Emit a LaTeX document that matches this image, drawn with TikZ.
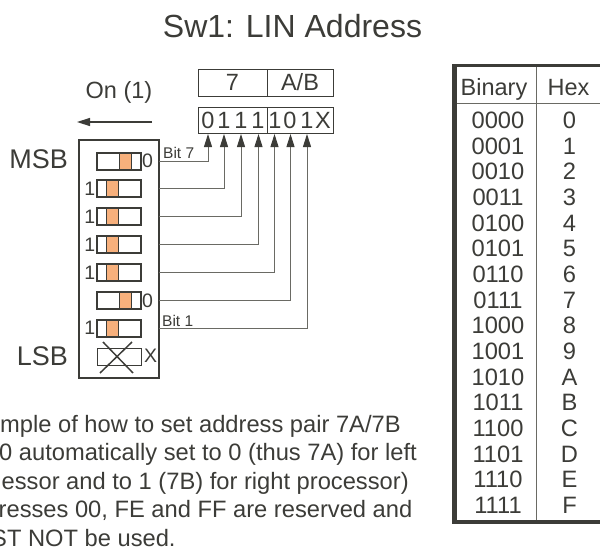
\documentclass[tikz,border=0pt]{standalone}
\usepackage{fontspec}
\setmainfont{Liberation Sans}
\usetikzlibrary{arrows.meta}
\definecolor{swDark}{HTML}{3C3C38}
\definecolor{swWire}{HTML}{6A6A64}
\definecolor{swOrange}{HTML}{F7B07C}

\begin{document}
\begin{tikzpicture}[x=1pt, y=-1pt,
        every node/.style={text=swDark, inner sep=0pt},
        swbox/.style={draw=swDark, line width=2pt},
        knob/.style={draw=swDark, line width=1pt, fill=swOrange},
        wire/.style={draw=swWire, line width=1pt},
        tip/.style={-{Triangle[length=13pt, width=8pt, color=swDark]}}]
    \useasboundingbox (0,0) rectangle (600,552);
    \clip (0,0) rectangle (600,552);
    \node[font=\fontsize{32}{38}\selectfont, anchor=base] (title) at (292.5,37) {Sw1: LIN Address};
    % on direction
    \node[font=\fontsize{23.5}{28}\selectfont, anchor=base] (on) at (119,98) {On (1)};
    \coordinate (onR) at (152,122);
    \coordinate (onL) at (77,122);
    \draw[swDark, line width=1.5pt, tip] (onR) -- (onL);
    % address boxes
    \node[draw=swDark, line width=1pt, minimum width=69, minimum height=27, font=\fontsize{23.5}{28}\selectfont] (hiNib) at (232.5,82.5) {7};
    \node[draw=swDark, line width=1pt, minimum width=66, minimum height=27, font=\fontsize{23.5}{28}\selectfont] (loNib) at (300,82.5) {A/B};
    \node[draw=swDark, line width=1pt, minimum width=69, minimum height=26] (bitsHi) at (232.5,120) {};
    \node[draw=swDark, line width=1pt, minimum width=66, minimum height=26] (bitsLo) at (300,120) {};
    \foreach \d/\x [count=\i] in {0/208,1/224,1/241,1/258,1/275,0/290,1/307,X/323}
        \node[anchor=base, font=\fontsize{23.5}{28}\selectfont] (d\i) at (\x,128) {\d};
    % dip switch
    \node[swbox, minimum width=80, minimum height=238] (dip) at (119,259) {};
    \node[font=\fontsize{27}{32}\selectfont, anchor=base east] (msb) at (68,168) {MSB};
    \node[font=\fontsize{27}{32}\selectfont, anchor=base east] (lsb) at (68,365.5) {LSB};
    \foreach \s/\kx/\ax [count=\i] in {0/125.5/208,1/112/224,1/112/241,1/112/258.5,1/112/274.5,0/125.5/290.5,1/112/307} {
        \pgfmathsetmacro\y{161+27.9*(\i-1)}
        \node[knob, minimum width=12, minimum height=17] (k\i) at (\kx,\y) {};
        \node[swbox, minimum width=44, minimum height=17] (sw\i) at (119,\y) {};
        \ifnum\s=0
            \node[anchor=base west, font=\fontsize{19.5}{23}\selectfont] (v\i) at (142,\y+6.5) {0};
        \else
            \node[anchor=base east, font=\fontsize{19.5}{23}\selectfont] (v\i) at (95.5,\y+6.5) {1};
        \fi
        \coordinate (w\i) at (159,\y);
        \coordinate (a\i) at (\ax,134);
        \draw[wire, tip] (w\i) -| (a\i);
    }
    \node[draw=swDark, line width=1pt, minimum width=44, minimum height=17] (sw8) at (119,356.5) {};
    \draw[swDark, line width=1.5pt] (103,342) -- (133,373) (132,342) -- (100,373);
    \node[anchor=base west, font=\fontsize{19.5}{23}\selectfont] (v8) at (144,362) {X};
    \node[anchor=base west, font=\fontsize{15.5}{18}\selectfont] (bit7) at (163,158) {Bit 7};
    \node[anchor=base west, font=\fontsize{15.5}{18}\selectfont] (bit1) at (162,326.5) {Bit 1};
    % note
    \begin{scope}[every node/.style={text=swDark, inner sep=0pt, anchor=base west, font=\fontsize{23.7}{28}\selectfont}]
        \node (note1) at (0,432.7) {mple of how to set address pair 7A/7B};
        \node (note2) at (-1,460.7) {0 automatically set to 0 (thus 7A) for left};
        \node (note3) at (1.5,489) {essor and to 1 (7B) for right processor)};
        \node (note4) at (-1.5,517) {resses 00, FE and FF are reserved and};
        \node (note5) at (-9,546) {ST NOT be used.};
    \end{scope}
    % hex table
    \draw[swDark, line width=3pt] (454.5,65.5) rectangle (612,521.5);
    \draw[swDark, line width=5pt] (454.5,64) -- (454.5,524);
    \draw[swDark, line width=4pt] (452,522) -- (612,522);
    \draw[swWire, line width=1pt] (457,103) -- (600,103);
    \draw[swWire, line width=1pt] (536,67) -- (536,520);
    \node[anchor=base, font=\fontsize{23.5}{28}\selectfont] (binHdr) at (494,95) {Binary};
    \node[anchor=base, font=\fontsize{23.5}{28}\selectfont] (hexHdr) at (568.5,95) {Hex};
    \foreach \b/\h [count=\i from 0] in {0000/0,0001/1,0010/2,0011/3,0100/4,0101/5,0110/6,0111/7,1000/8,1001/9,1010/A,1011/B,1100/C,1101/D,1110/E,1111/F} {
        \pgfmathsetmacro\y{128.5+25.67*\i}
        \node[anchor=base, font=\fontsize{23.7}{28}\selectfont] (b\i) at (498,\y) {\b};
        \node[anchor=base, font=\fontsize{23.7}{28}\selectfont] (h\i) at (569.5,\y) {\h};
    }
\end{tikzpicture}
\end{document}
